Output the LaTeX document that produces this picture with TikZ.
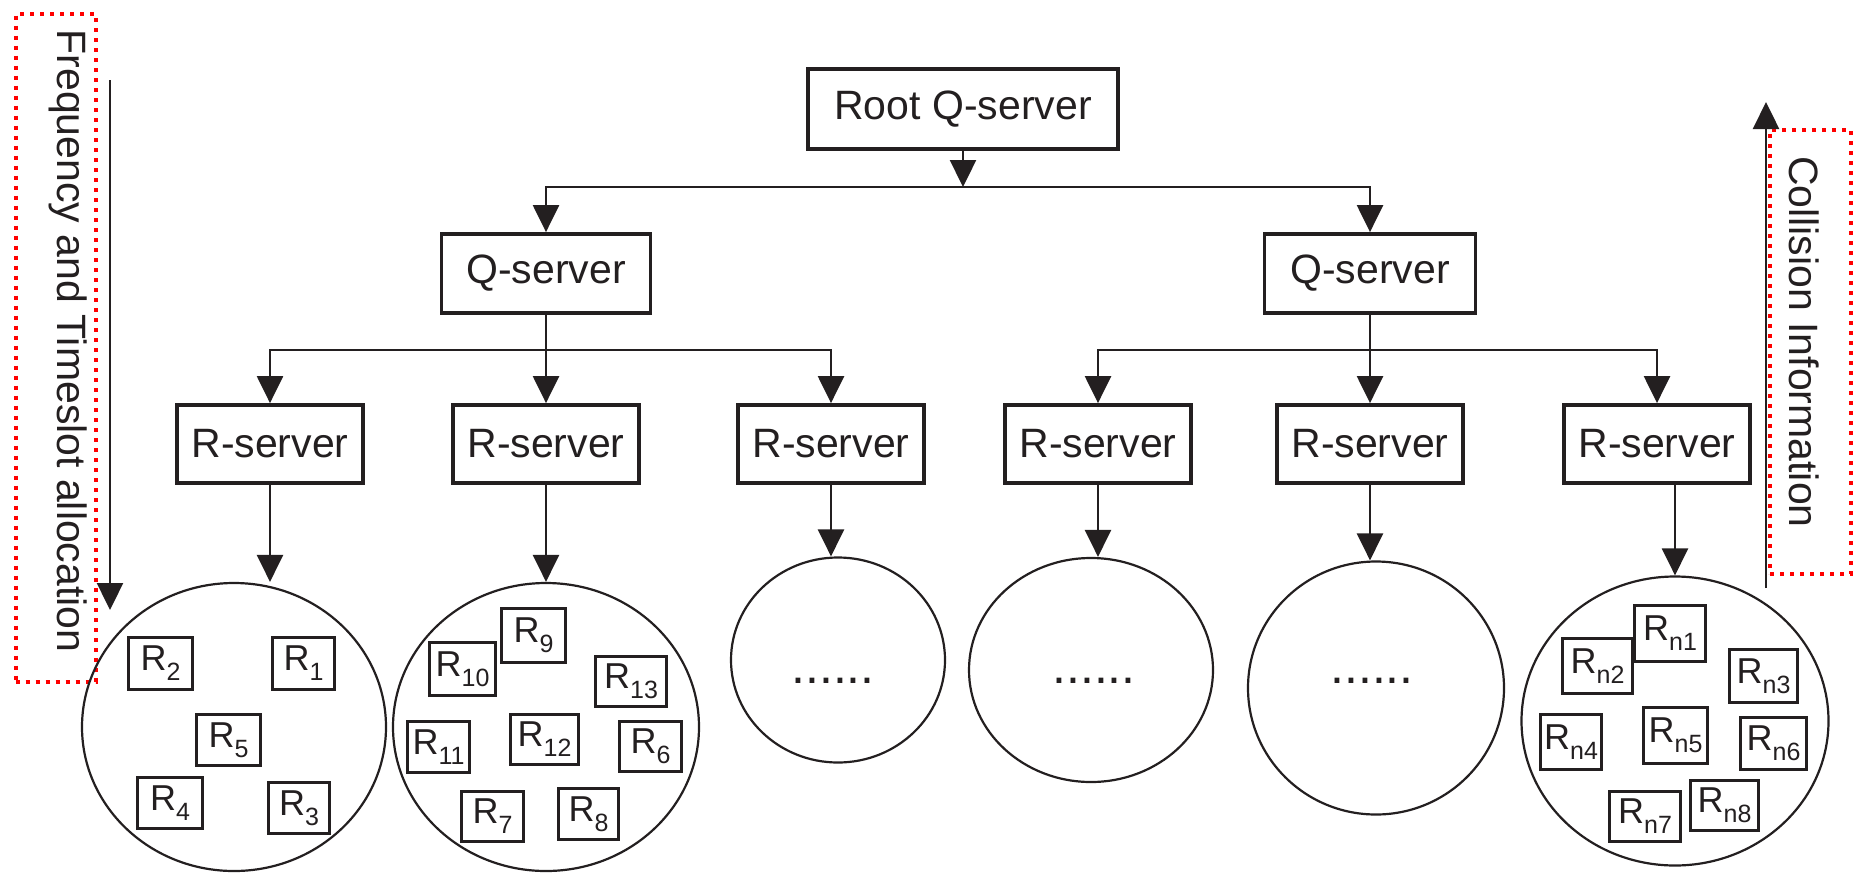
\documentclass[tikz,border=0pt]{standalone}
\usepackage{fontspec}
\setmainfont{Liberation Sans}
\usetikzlibrary{arrows.meta,shapes.geometric}
\definecolor{ink}{HTML}{231F20}
% R with a lowered index
\newcommand\rlab[1]{R\raisebox{-10pt}{\fontsize{25}{25}\selectfont #1}}
\tikzset{
  srv/.style={draw=ink, line width=3.8pt, inner sep=0pt, fill=white,
    font=\fontsize{41}{41}\selectfont, text=ink},
  rbox/.style={draw=ink, line width=3.4pt, inner sep=0pt, fill=white,
    font=\fontsize{36}{36}\selectfont, text=ink},
  cell/.style={draw=ink, line width=2.2pt, ellipse, inner sep=0pt},
  arr/.style={draw=ink, line width=2.4pt, -{Triangle[width=26pt,length=27pt]}},
  redframe/.style={draw=red, line width=4pt, dash pattern=on 4pt off 6pt, inner sep=0pt},
  side/.style={font=\fontsize{41}{41}\selectfont, text=ink, rotate=-90, anchor=base, inner sep=0pt},
  dotrow/.style={font=\fontsize{50}{50}\selectfont, text=ink, inner sep=0pt, anchor=base}
}
\begin{document}
\begin{tikzpicture}[x=1pt,y=-1pt]
\useasboundingbox (0,0) rectangle (1858,873);

% side frames and their labels
\node[redframe, minimum width=80pt, minimum height=668pt] (lf) at (55.5,347.5) {};
\node[redframe, minimum width=81pt, minimum height=444pt] (rf) at (1810.5,352) {};
\node[side] (ft) at (57,341) {Frequency and Timeslot allocation};
\node[side] (ct) at (1789,342) {Collision Information};
\coordinate (fa) at (110,80);
\coordinate (fb) at (110,610);
\draw[arr] (fa) -- (fb);
\coordinate (ca) at (1766,588);
\coordinate (cb) at (1766,102);
\draw[arr] (ca) -- (cb);

% server tree
\node[srv, minimum width=310pt, minimum height=80pt] (root) at (963,109) {Root Q-server};
\node[srv, minimum width=209pt, minimum height=79pt] (qL) at (546,273.5) {Q-server};
\node[srv, minimum width=211pt, minimum height=79pt] (qR) at (1370,273.5) {Q-server};
\foreach \n/\x in {1/270,2/546,3/831,4/1098,5/1370,6/1657}
  \node[srv, minimum width=186pt, minimum height=78pt] (r\n) at (\x,444) {R-server};

% resource cells
\node[cell, minimum width=304pt, minimum height=288pt] (c1) at (234,727) {};
\node[cell, minimum width=306pt, minimum height=288pt] (c2) at (546,727) {};
\node[cell, minimum width=214pt, minimum height=205pt] (c3) at (838,660) {};
\node[cell, minimum width=244pt, minimum height=224pt] (c4) at (1091,670) {};
\node[cell, minimum width=256pt, minimum height=253pt] (c5) at (1376,688) {};
\node[cell, minimum width=307pt, minimum height=289pt] (c6) at (1675,721) {};
\node[dotrow] (d3) at (833,683) {......};
\node[dotrow] (d4) at (1094,683) {......};
\node[dotrow] (d5) at (1372,683) {......};

% connectors
\coordinate (b1) at (963,187);
\draw[arr] (root.south) -- (b1);
\draw[arr] (b1) -| (qL.north);
\draw[arr] (b1) -| (qR.north);
\coordinate (b2) at (546,350);
\draw[arr] (qL.south) -- (r2.north);
\draw[arr] (b2) -| (r1.north);
\draw[arr] (b2) -| (r3.north);
\coordinate (b3) at (1370,350);
\draw[arr] (qR.south) -- (r5.north);
\draw[arr] (b3) -| (r4.north);
\draw[arr] (b3) -| (r6.north);
\draw[arr] (r1.south) -- (r1.south |- c1.north);
\draw[arr] (r2.south) -- (r2.south |- c2.north);
\draw[arr] (r3.south) -- (r3.south |- c3.north);
\draw[arr] (r4.south) -- (r4.south |- c4.north);
\draw[arr] (r5.south) -- (r5.south |- c5.north);
\draw[arr] (c6.north |- r6.south) -- (c6.north);

% resources inside the cells
\foreach \nm/\x/\y/\w/\h/\s in {
  R2/160.5/663.5/64/52/2, R1/303.5/663.5/62/52/1, R5/228.5/740/64/51/5,
  R4/170/803/65/51/4, R3/299/808/61/51/3,
  R9/533.5/635.5/64/54/9, R10/462.5/669/66/53/10, R13/631/681.5/71/50/13,
  R11/438.5/747/62/51/11, R12/544.5/739.5/68/50/12, R6/650.5/746.5/62/50/6,
  R7/492.5/816.5/62/50/7, R8/588.5/814/60/51/8,
  Rn1/1670/633.5/71/56/n1, Rn2/1597.5/666/70/55/n2, Rn3/1763.5/676/68/53/n3,
  Rn4/1571/742/61/55/n4, Rn5/1675.5/735.5/64/56/n5, Rn6/1773.5/743.5/66/52/n6,
  Rn7/1645/816.5/71/50/n7, Rn8/1724.5/805.5/68/50/n8}
  \node[rbox, minimum width=\w pt, minimum height=\h pt] (\nm) at (\x,\y) {\rlab{\s}};
\end{tikzpicture}
\end{document}
